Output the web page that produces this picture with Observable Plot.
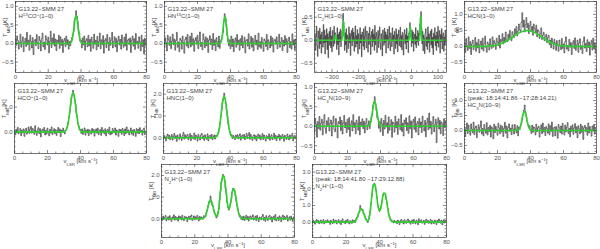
<!DOCTYPE html>
<html><head><meta charset="utf-8">
<script src="https://cdn.jsdelivr.net/npm/d3@7"></script>
<script src="https://cdn.jsdelivr.net/npm/@observablehq/plot@0.6"></script>
<style>
body{margin:0;background:#fff;}
#chart{position:relative;width:600px;height:249px;overflow:hidden;background:#fff;}
#chart svg{position:absolute;}
</style></head><body><div id="chart"></div>
<script>
// ---------- text ----------
const sourceName = "G13.22−SMM 27";
const yTitle = "T_{MB} [K]";
const xTitle = "v_{LSR} [km s^{−1}]";
const lineNames = ["H^{13}CO^{+}(1−0)","HN^{13}C(1−0)","C_{2}H(1−0)","HCN(1−0)","HCO^{+}(1−0)","HNC(1−0)","HC_{3}N(10−9)","HC_{3}N(10−9)","N_{2}H^{+}(1−0)","N_{2}H^{+}(1−0)"];
const peakHC3N = "(peak: 18:14:41.86 −17:28:14.21)";
const peakN2Hp = "(peak: 18:14:41.80 −17:29:12.88)";
const velTicks = [0,20,40,60,80];
const velTicksC2H = [-300,-200,-100,0,100];

// ---------- spectra (T_MB in units of 0.01 K), channels of 0.5 km/s from 0 km/s ----------
const specH13COp = [12,-5,20,8,-15,3,25,-10,6,18,-22,4,14,-8,30,-3,9,-18,22,5,-12,16,-30,7,11,-6,24,2,-14,19,8,-20,13,28,-9,4,-16,21,10,-4,17,-25,6,33,-11,15,-2,26,-7,12,-19,9,3,22,-13,18,-5,11,-24,7,14,-8,20,-3,10,-15,5,-6,8,16,24,32,62,68,88,74,60,35,28,6,9,-12,15,-4,20,-18,7,13,-9,22,-6,11,-21,17,4,-13,25,-2,9,-17,19,-8,6,28,-14,10,-3,21,-26,8,13,-11,24,3,-19,16,-5,9,30,-12,5,18,-9,14,-22,7,20,-4,11,-15,23,2,-10,17,-6,26,-18,8,12,-3,15,-24,9,20,-7,13,-16,27,-1,6,-13,18,4,-20,22,-8,10,-28,14,-5,8];
const specHN13C = [-8,15,3,-20,22,10,-5,18,-14,6,25,-3,12,-18,8,30,-10,4,-22,14,9,-15,20,2,-26,11,17,-7,24,-12,5,19,-9,28,-4,13,-21,8,16,-2,22,-14,7,31,-8,3,-17,26,10,-11,18,-6,14,-24,9,21,-3,12,-16,27,-5,10,-19,16,4,-9,20,-13,7,12,18,30,58,80,68,45,22,4,-6,10,-14,20,-8,12,-22,6,15,-10,24,-3,9,-18,13,-5,21,-12,4,17,-25,8,11,-7,26,-15,3,19,-10,14,-20,6,22,-4,9,-16,28,-9,5,-13,16,2,-21,12,7,-8,24,-17,10,3,-12,20,-6,15,-23,8,11,-2,18,-14,6,25,-10,4,16,-19,9,-7,21,-3,13,-24,7,17,-11,5,-15,26,-4,10,-18,12,-2];
// C2H: channels of 2 km/s from -364 km/s
const specC2H = [15,-22,8,30,-12,-35,20,5,-18,26,-8,12,-28,18,3,-15,34,-6,22,-30,10,-4,25,-20,14,-38,7,19,-11,28,-16,9,-25,21,2,-13,30,-7,16,12,5,-20,27,-9,13,-32,18,-3,24,-14,8,20,35,58,40,10,-22,16,-10,25,-27,11,4,-18,29,-5,15,-33,9,21,-12,26,-2,17,-24,6,31,-15,10,-8,23,-29,14,2,-19,27,-6,12,-36,18,7,-13,25,-21,9,30,-4,-17,20,3,-26,15,-9,28,11,-31,6,19,-14,24,-3,13,-22,32,-10,8,17,-27,5,21,-16,10,29,-7,-20,14,3,-34,22,9,-11,26,-5,18,-28,12,1,24,-17,7,30,-9,-23,16,5,-14,27,-2,11,-30,19,4,-18,25,-8,13,-25,8,22,-12,6,28,-15,10,-21,17,2,-32,14,23,-7,12,-19,26,-4,9,-27,15,20,38,30,12,-14,22,-6,18,-24,5,13,-9,27,-16,8,-3,21,-11,15,10,35,50,62,28,-8,19,-23,11,4,-29,16,25,-13,7,-20,29,-5,14,-26,9,20,-10,24,-17,6,-31,15,2,27,-12,10,-22,18,-6,30,-15,8,21,-28,12,-3,25,-19,9,16,-24,7,-11,22,-5];
const specHCN = [10,-18,25,4,-12,30,-6,15,-25,8,20,-10,3,28,-15,12,-4,22,-20,6,17,-8,26,-14,9,32,-3,-18,14,7,-11,24,5,-6,30,-2,18,10,-9,26,14,3,35,-5,22,16,40,8,28,12,45,20,15,38,24,50,30,18,46,36,28,55,40,62,33,48,70,52,44,75,105,60,82,45,68,90,58,72,40,65,78,50,62,35,70,56,42,66,30,52,48,25,40,58,22,35,44,18,30,38,12,28,35,6,20,-4,26,14,-8,22,10,-12,18,4,-15,20,2,-10,25,-6,8,-20,15,30,-8,3,-14,22,-2,12,-25,9,18,-6,27,-12,5,20,-18,11,24,-9,2,-22,16,30,-5,10,-16,21,-3,14,-27,8,19,-11,26,-7,12,-20,5];
const specHCOp = [5,-12,10,-3,18,-8,2,14,-15,7,-4,12,-18,6,15,-9,3,20,-6,11,22,-5,14,8,-10,25,3,-14,9,17,-7,13,-20,5,11,-2,18,-12,6,-9,15,2,-16,10,-5,20,-11,4,13,-7,9,-14,6,18,-3,12,-19,7,-1,15,4,-8,6,12,18,40,58,78,108,140,150,168,148,128,112,75,60,32,24,8,10,-6,12,-10,4,16,-13,7,-4,11,-15,8,3,-9,14,-2,10,-17,6,12,-5,15,-11,4,9,-14,18,-3,7,-8,13,-16,5,10,-6,19,-12,2,-9,14,6,-4,16,-13,8,3,-18,11,-2,9,-10,14,5,-15,12,-7,20,-3,8,-12,4,16,-9,7,-14,10,2,-18,13,-5,11,-8,17,-2,6,-13,9,15,-11,3,-6];
const specHNC = [-6,10,3,-14,8,17,-4,12,-9,5,15,-11,7,20,-3,9,-16,13,2,-7,18,4,-12,10,25,-6,14,-2,8,16,-9,6,19,-13,11,3,-5,22,-8,12,7,-15,16,4,-10,13,20,-4,9,-12,14,2,-7,18,-14,8,11,-3,16,-9,5,13,-6,10,8,14,24,42,70,100,128,165,182,205,180,158,125,98,62,42,28,12,15,-3,10,4,-8,12,6,14,-5,9,18,-11,7,13,-2,15,-9,6,20,-4,11,24,-7,16,3,-12,9,14,-6,10,-14,8,17,-3,12,-10,5,19,-8,13,2,-15,10,6,-5,18,-11,7,14,-9,4,21,-6,11,-13,8,3,16,-12,9,-4,15,7,-16,12,2,-8,17,5,-10,13,-3,9,20,-14,6,11,-5,8];
const specHC3N = [-15,20,5,-28,12,-6,25,-10,8,18,-22,10,30,-5,-18,14,3,22,-12,7,16,-25,9,26,-8,-14,20,4,-30,12,6,24,-11,15,-20,8,28,-4,10,-16,18,-8,22,-26,5,14,-12,30,-3,9,-19,16,7,-10,25,-22,11,3,19,-6,13,-17,8,20,-9,4,14,-6,10,25,30,55,62,76,58,40,22,18,-5,12,-14,20,6,-24,15,-7,28,-2,9,-18,24,-10,4,17,-28,11,7,-15,26,-4,12,-21,19,3,-9,30,-13,8,-25,16,5,22,-11,9,-18,27,-6,14,-30,10,18,-8,24,-15,6,12,-22,20,-3,11,-16,26,2,-12,15,-27,8,21,-9,34,-5,13,-20,7,25,-14,4,18,-42,10,22,-7,15,-19,11,6,-24,19,-3,14,-10];
const specHC3Npeak = [12,-20,6,25,-10,18,-3,-16,22,5,-8,28,-14,9,15,-24,3,19,-6,11,32,-12,7,-18,20,4,-9,26,-15,10,-4,17,-22,12,6,-28,21,-7,14,3,-16,24,9,-11,18,-5,13,-20,7,27,-9,15,-25,10,22,-3,8,-14,19,5,-12,20,4,-8,16,-18,11,3,14,22,35,52,68,85,62,45,30,20,10,16,4,-10,18,-6,12,8,-15,21,-4,9,14,-22,7,19,-11,25,-5,10,-17,13,6,-9,22,-14,16,-3,28,-20,8,11,-18,13,4,-26,20,9,-7,15,-12,24,2,-15,18,-5,11,26,-10,7,-21,14,-3,19,-13,8,23,-8,12,-24,16,5,-11,21,-6,14,-30,9,17,-4,10,-16,25,-8,13,3,-19,15,-2,20,-12,7,10];
const specN2Hp = [5,-8,12,-3,7,15,-10,4,9,-6,14,-2,-12,8,3,18,-7,10,-4,6,-11,13,2,9,-6,16,-3,-9,11,5,8,-14,6,12,-4,10,17,-8,3,13,-5,9,-2,15,6,-10,11,-3,8,4,-2,14,10,9,30,42,60,78,75,105,80,62,58,35,24,22,4,10,30,45,85,128,170,185,205,195,178,140,118,75,52,40,55,72,90,125,140,135,128,105,80,58,45,20,8,14,-3,9,-6,12,-8,5,16,-4,10,-11,7,13,-2,9,18,-6,3,12,-9,15,2,-13,8,4,-5,11,20,-7,6,-12,14,3,-8,10,16,-3,9,-15,5,12,-6,19,-10,2,7,-9,13,4,-14,8,17,-5,11,-3,6,15,-11,3,9,-7,12,-2,-13,8,4];
const specN2Hppeak = [-6,10,4,-12,8,15,-3,11,-9,5,13,-7,2,16,-10,6,9,-4,14,-2,7,-13,11,3,-8,18,-5,9,12,-10,4,15,-6,8,-14,10,20,-3,6,-9,12,-4,17,2,-11,9,5,-7,14,3,10,-2,20,28,30,55,62,100,78,72,75,52,48,28,20,8,-2,18,40,70,115,160,210,228,232,218,190,150,100,85,65,80,98,128,160,175,172,168,138,115,82,48,35,12,14,2,8,-5,10,-3,6,-9,12,3,-14,10,16,-5,8,-11,15,2,-7,11,19,-3,9,-12,5,13,-8,17,4,-10,12,7,-15,20,-2,9,14,-6,3,11,-13,8,18,-4,10,-7,5,16,-11,9,2,-9,13,6,-14,11,-3,19,8,-6,12,-16,7,15,-5,10,2];

// ---------- Gaussian fits [v (km/s), T_MB (K)] ----------
const fitH13COp = [[0,0],[33,0],[34,.03],[35,.19],[35.5,.34],[36,.53],[36.5,.69],[37,.75],[37.5,.69],[38,.53],[38.5,.34],[39,.19],[40,.03],[41,0],[80,0]];
const fitHN13C = [[0,0],[33,0],[34,.02],[35,.2],[35.6,.44],[36.1,.64],[36.6,.72],[37.1,.64],[37.6,.44],[38.2,.2],[39.2,.02],[40,0],[80,0]];
const fitC2H = [[-364,0],[-292,0],[-289,.06],[-287,.12],[-285,.06],[-282,0],[-262,0],[-259,.2],[-257,.42],[-255,.2],[-252,0],[-10,0],[-7,.15],[-5,.3],[-3,.15],[0,0],[31,0],[33,.25],[35,.55],[37,.25],[40,0],[130,0]];
const fitHCN = [[0,0],[10,.002],[14,.009],[18,.031],[22,.085],[26,.185],[30,.321],[34,.447],[38,.5],[42,.447],[46,.321],[50,.185],[54,.085],[58,.031],[62,.009],[66,.002],[80,0]];
const fitHCOp = [[0,0],[29,0],[30.5,.02],[31.5,.1],[32.5,.34],[33.5,.8],[34.5,1.35],[35.5,1.6],[36.5,1.35],[37.5,.8],[38.5,.34],[39.5,.1],[40.5,.02],[42,0],[80,0]];
const fitHNC = [[0,0],[30,0],[31.5,.03],[32.5,.12],[33.5,.4],[34.5,.95],[35.5,1.6],[36.5,1.9],[37.5,1.6],[38.5,.95],[39.5,.4],[40.5,.12],[41.5,.03],[43,0],[80,0]];
const fitHC3N = [[0,0],[31,0],[32.5,.006],[33.5,.045],[34.5,.2],[35.5,.48],[36.5,.65],[37.5,.48],[38.5,.2],[39.5,.045],[40.5,.006],[42,0],[80,0]];
const fitHC3Npeak = [[0,0],[30.8,0],[32.3,.01],[33.3,.06],[34.3,.23],[35.3,.5],[36.3,.65],[37.3,.5],[38.3,.23],[39.3,.06],[40.3,.01],[42,0],[80,0]];
const fitN2Hp = [[0,0],[24,0],[25,.02],[26,.08],[26.5,.15],[27,.25],[27.5,.4],[28,.55],[28.5,.7],[29,.82],[29.5,.88],[30,.82],[30.5,.7],[31,.55],[31.5,.4],[32,.28],[32.5,.17],[33,.12],[33.5,.12],[34,.25],[34.5,.5],[35,.9],[35.5,1.3],[36,1.65],[36.5,1.9],[37,2.0],[37.5,1.98],[38,1.8],[38.5,1.5],[39,1.15],[39.5,.8],[40,.55],[40.5,.45],[41,.5],[41.5,.7],[42,.95],[42.5,1.2],[43,1.35],[43.5,1.4],[44,1.3],[44.5,1.1],[45,.85],[45.5,.6],[46,.4],[46.5,.25],[47,.15],[47.5,.08],[48,.05],[49,.01],[50,0],[80,0]];
const fitN2Hppeak = [[0,0],[24,0],[25,.03],[25.5,.06],[26,.12],[26.5,.22],[27,.35],[27.5,.5],[28,.65],[28.5,.75],[29,.8],[29.5,.78],[30,.7],[30.5,.55],[31,.4],[31.5,.25],[32,.14],[32.5,.08],[33,.08],[33.5,.15],[34,.35],[34.5,.7],[35,1.15],[35.5,1.65],[36,2.05],[36.5,2.28],[37,2.3],[37.5,2.15],[38,1.85],[38.5,1.45],[39,1.05],[39.5,.8],[40,.7],[40.5,.75],[41,.95],[41.5,1.25],[42,1.55],[42.5,1.72],[43,1.75],[43.5,1.65],[44,1.4],[44.5,1.1],[45,.8],[45.5,.5],[46,.3],[46.5,.16],[47,.08],[47.5,.04],[48,.02],[49,0],[80,0]];

// ---------- panel layout (frame left, top, width, height) ----------
const panels = [
  {spec:specH13COp, v0:0, dv:0.5, fit:fitH13COp, lines:[sourceName,lineNames[0]], box:[15,1,131,71], x:[0,80], xt:velTicks, xm:5, y:[-0.78,1.13], yt:[-0.5,0,0.5,1], ym:0.1},
  {spec:specHN13C, v0:0, dv:0.5, fit:fitHN13C, lines:[sourceName,lineNames[1]], box:[164,1,132,71], x:[0,80], xt:velTicks, xm:5, y:[-0.78,1.13], yt:[-0.5,0,0.5,1], ym:0.1},
  {spec:specC2H, v0:-364, dv:2, fit:fitC2H, lines:[sourceName,lineNames[2]], box:[314,1,132,71], x:[-366,132], xt:velTicksC2H, xm:20, y:[-0.7,0.84], yt:[-0.5,0,0.5], ym:0.1, yf:".1f"},
  {spec:specHCN, v0:0, dv:0.5, fit:fitHCN, lines:[sourceName,lineNames[3]], box:[464,1,132,71], x:[0,80], xt:velTicks, xm:5, y:[-0.81,1.4], yt:[-0.5,0,0.5,1], ym:0.1},
  {spec:specHCOp, v0:0, dv:0.5, fit:fitHCOp, lines:[sourceName,lineNames[4]], box:[14,83,132,70], x:[0,80], xt:velTicks, xm:5, y:[-0.87,1.95], yt:[0,1], ym:0.2},
  {spec:specHNC, v0:0, dv:0.5, fit:fitHNC, lines:[sourceName,lineNames[5]], box:[163,83,133,70], x:[0,80], xt:velTicks, xm:5, y:[-0.72,2.49], yt:[0,1,2], ym:0.2},
  {spec:specHC3N, v0:0, dv:0.5, fit:fitHC3N, lines:[sourceName,lineNames[6]], box:[314,83,132,70], x:[0,80], xt:velTicks, xm:5, y:[-0.7,1.1], yt:[-0.5,0,0.5,1], ym:0.1},
  {spec:specHC3Npeak, v0:0, dv:0.5, fit:fitHC3Npeak, lines:[sourceName,peakHC3N,lineNames[7]], box:[464,83,132,70], x:[0,80], xt:velTicks, xm:5, y:[-0.77,1.57], yt:[-0.5,0,0.5,1], ym:0.1},
  {spec:specN2Hp, v0:0, dv:0.5, fit:fitN2Hp, lines:[sourceName,lineNames[8]], box:[161,164,133,73], x:[0,80], xt:velTicks, xm:5, y:[-0.87,2.51], yt:[0,1,2], ym:0.2},
  {spec:specN2Hppeak, v0:0, dv:0.5, fit:fitN2Hppeak, lines:[sourceName,peakN2Hp,lineNames[9]], box:[312,164,134,73], x:[0,80], xt:velTicks, xm:5, y:[-0.92,3.46], yt:[0,1,2,3], ym:0.2}
];

function richText(svg){
  d3.select(svg).selectAll("text").each(function(){
    const s = this.textContent;
    if (!/[_^]\{/.test(s)) return;
    const el = d3.select(this); el.text(null);
    const re = /([_^])\{([^}]*)\}/g; let last = 0, m;
    while ((m = re.exec(s))) {
      if (m.index > last) el.append("tspan").text(s.slice(last, m.index));
      el.append("tspan").attr("baseline-shift", m[1] === "_" ? "sub" : "super").attr("font-size", "72%").text(m[2]);
      last = re.lastIndex;
    }
    if (last < s.length) el.append("tspan").text(s.slice(last));
  });
}

const root = document.getElementById("chart");
const ink = "#3a3a3a";
for (const p of panels) {
  const [L, T, W, H] = p.box;
  const mL = 24, mT = 3, mR = 3, mB = 14;
  const spec = p.spec.map((t, i) => ({v: p.v0 + i * p.dv, t: t / 100}));
  const fit = p.fit.map(([v, t]) => ({v, t}));
  const xMinor = d3.range(Math.ceil(p.x[0] / p.xm) * p.xm, p.x[1] + 1e-9, p.xm).filter(v => !p.xt.includes(v));
  const yMinor = d3.range(Math.ceil(p.y[0] / p.ym) * p.ym, p.y[1] + 1e-9, p.ym).map(v => +v.toFixed(3)).filter(v => !p.yt.includes(v));
  const tick = {stroke: ink, strokeWidth: 0.6};
  const marks = [
    Plot.line(spec, {x: "v", y: "t", curve: "step", stroke: "#1a1a1a", strokeWidth: 0.6, clip: true}),
    Plot.line(fit, {x: "v", y: "t", curve: "monotone-x", stroke: "#30cf30", strokeWidth: 1.6, clip: true}),
    Plot.frame({stroke: ink, strokeWidth: 0.7}),
    Plot.tickX(p.xt, {x: d => d, insetTop: H - 3, ...tick}),
    Plot.tickX(p.xt, {x: d => d, insetBottom: H - 3, ...tick}),
    Plot.tickX(xMinor, {x: d => d, insetTop: H - 1.5, ...tick}),
    Plot.tickX(xMinor, {x: d => d, insetBottom: H - 1.5, ...tick}),
    Plot.tickY(p.yt, {y: d => d, insetRight: W - 3, ...tick}),
    Plot.tickY(p.yt, {y: d => d, insetLeft: W - 3, ...tick}),
    Plot.tickY(yMinor, {y: d => d, insetRight: W - 1.5, ...tick}),
    Plot.tickY(yMinor, {y: d => d, insetLeft: W - 1.5, ...tick}),
    Plot.axisX({ticks: p.xt, tickSize: 0, tickPadding: 2, label: null, fill: "#555"}),
    Plot.axisY({ticks: p.yt, tickSize: 0, tickPadding: 2, label: null, fill: "#555", tickFormat: p.yf}),
    Plot.text([yTitle], {frameAnchor: "left", dx: -10, rotate: -90, fill: "#444"}),
    Plot.text([xTitle], {frameAnchor: "bottom", dy: 9, fill: "#444"}),
    ...p.lines.map((s, i) => Plot.text([s], {frameAnchor: "top-left", dx: 3, dy: 5 + 7 * i, textAnchor: "start", fill: "#444"}))
  ];
  const svg = Plot.plot({
    width: W + mL + mR, height: H + mT + mB,
    marginLeft: mL, marginTop: mT, marginRight: mR, marginBottom: mB,
    style: {background: "transparent", overflow: "visible", fontFamily: "'Liberation Sans', Arial, sans-serif", fontSize: "6px"},
    x: {domain: p.x, axis: null},
    y: {domain: p.y, axis: null},
    marks
  });
  svg.style.left = (L - mL) + "px";
  svg.style.top = (T - mT) + "px";
  richText(svg);
  root.appendChild(svg);
}
</script></body></html>
